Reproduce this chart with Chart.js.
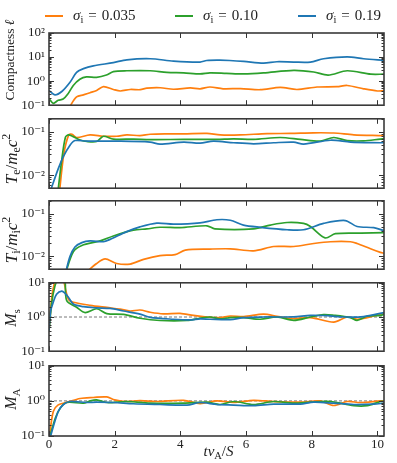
<!DOCTYPE html>
<html><head><meta charset="utf-8">
<script src="https://cdn.jsdelivr.net/npm/chart.js@4"></script>
<style>
body{margin:0;background:#fff}
#wrap{position:relative;width:397px;height:463px;overflow:hidden;background:#fff}
canvas{position:absolute;left:0}
.lg{position:absolute;top:7px;display:flex;align-items:center;font:15px 'Liberation Serif',serif;color:#222;white-space:nowrap;line-height:17px}
.ln{display:inline-block;width:18px;height:2px;margin-right:10px}
.lg sub{font-size:70%;vertical-align:-0.3em;line-height:0;font-style:normal}
.eq{margin:0 5px}
</style></head>
<body><div id="wrap">
<canvas id="c0" width="397" height="117" style="top:0px"></canvas>
<canvas id="c1" width="397" height="93" style="top:107px"></canvas>
<canvas id="c2" width="397" height="92" style="top:189px"></canvas>
<canvas id="c3" width="397" height="92" style="top:271px"></canvas>
<canvas id="c4" width="397" height="109" style="top:354px"></canvas>
<div id="legend"></div>
</div>
<script>
// ---------- data ----------
const sigmaLabels = ['0.035', '0.10', '0.19'];
const seriesColors = ['#ff7f0e', '#2ca02c', '#1f77b4'];
const xTickValues = [0, 2, 4, 6, 8, 10];
const yTickText = {'100':'10\u00B2','10':'10\u00B9','1':'10\u2070','0.1':'10\u207B\u00B9','0.01':'10\u207B\u00B2'};
const compTicks = [0.1, 1, 10, 100];
const tempTicks = [0.01, 0.1];
const machTicks = [0.1, 1, 10];

// Compactness
const compT_035 = [0.55,0.66,0.84,1.05,1.25,1.45,1.66,1.96,2.17,2.47,2.78,2.98,3.39,3.79,4.3,4.6,4.9,5.3,5.83,6.43,7.04,7.55,8.16,8.77,9.08,9.58,10.0,10.2];
const comp_035  = [0.05,0.1,0.22,0.27,0.33,0.41,0.59,0.45,0.39,0.45,0.44,0.51,0.53,0.46,0.52,0.48,0.57,0.48,0.49,0.44,0.55,0.45,0.57,0.59,0.66,0.48,0.39,0.40];
const compT_010 = [0,0.13,0.28,0.43,0.58,0.74,0.94,1.14,1.45,1.75,1.96,2.37,3.08,3.59,4.1,4.6,4.9,5.4,5.93,6.53,7.45,8.06,8.5,9.08,9.8,10.2];
const comp_010  = [0.19,0.12,0.16,0.18,0.3,0.66,1.2,1.5,1.44,1.8,2.5,2.7,2.7,2.3,2.2,2.0,2.2,2.1,2.0,2.2,2.8,2.4,1.78,2.7,1.95,1.95];
const compT_019 = [0,0.18,0.39,0.64,0.84,1.05,1.35,1.96,2.37,3.08,3.79,4.6,4.8,5.2,5.5,5.93,6.53,6.94,7.45,7.96,8.36,9.08,9.58,10.2];
const comp_019  = [0.41,0.27,0.37,0.9,2.3,3.3,4.3,5.9,7.7,8.5,6.8,6.2,7.2,7.4,7.2,6.6,5.6,6.4,6.2,6.2,8.5,10.2,8.5,7.4];

// Electron temperature
const teT_035 = [0.3,0.45,0.6,0.7,0.84,1.25,1.66,2.06,2.37,2.77,3.08,3.59,4.1,4.81,5.21,5.82,6.64,7.35,8.06,8.67,9.28,10.04,10.2];
const te_035  = [0.003,0.03,0.085,0.088,0.074,0.085,0.079,0.079,0.085,0.082,0.088,0.09,0.09,0.092,0.085,0.085,0.091,0.092,0.095,0.094,0.085,0.082,0.082];
const teT_010 = [0.25,0.38,0.5,0.6,0.95,1.15,1.45,1.66,1.96,2.57,3.08,4.1,5.11,5.62,6.23,7.04,7.65,8.26,8.67,9.08,9.58,10.09,10.2];
const te_010  = [0.003,0.02,0.075,0.085,0.065,0.06,0.06,0.079,0.068,0.068,0.066,0.067,0.067,0.069,0.067,0.074,0.067,0.061,0.074,0.063,0.062,0.068,0.069];
const teT_019 = [0.05,0.28,0.44,0.64,0.79,1.15,2.06,3.08,3.38,4.1,4.6,5.01,5.62,6.23,6.84,7.45,7.75,8.57,9.18,10.09,10.2];
const te_019  = [0.0045,0.014,0.027,0.049,0.063,0.061,0.061,0.058,0.052,0.058,0.055,0.061,0.056,0.053,0.056,0.058,0.052,0.064,0.058,0.056,0.056];

// Ion temperature
const tiT_035 = [1.1,1.45,1.71,2.06,2.47,2.88,3.38,3.84,4.15,4.9,5.52,6.23,6.84,7.45,8.06,8.57,9.18,9.38,9.79,10.09,10.2];
const ti_035  = [0.004,0.0068,0.0087,0.0068,0.0066,0.0085,0.0104,0.011,0.014,0.0148,0.015,0.0135,0.017,0.017,0.02,0.022,0.022,0.02,0.015,0.0124,0.0118];
const tiT_010 = [0.5,0.74,1.0,1.56,1.96,2.57,2.98,3.38,3.99,4.81,5.05,6.23,6.74,7.25,7.75,7.96,8.41,8.72,9.5,10.2];
const ti_010  = [0.004,0.0128,0.018,0.023,0.03,0.041,0.044,0.048,0.047,0.052,0.044,0.044,0.054,0.062,0.059,0.05,0.027,0.034,0.035,0.036];
const tiT_019 = [0.5,0.64,0.79,1.0,1.25,1.66,1.86,2.37,2.77,3.28,3.79,4.6,5.11,5.52,5.92,6.43,7.25,7.75,8.36,9.02,9.38,9.89,10.2];
const ti_019  = [0.004,0.01,0.0166,0.021,0.023,0.022,0.025,0.038,0.049,0.06,0.057,0.061,0.072,0.07,0.054,0.048,0.042,0.042,0.059,0.069,0.05,0.047,0.04];

// Sonic Mach number
const msT_035 = [0,0.08,0.15,0.25,0.35,0.45,0.52,0.6,0.74,1.25,1.76,2.16,2.47,2.77,3.08,3.48,3.99,4.4,4.81,5.2,5.52,5.93,6.53,6.94,7.35,7.96,8.67,9.08,9.38,9.69,10.2];
const ms_035  = [0.4,3.4,8.5,14,16,11,5.5,3.2,2.7,2.2,1.9,1.7,1.5,1.6,1.38,1.24,1.28,1.11,1.0,0.96,1.07,1.03,1.21,1.05,0.9,0.96,0.71,1.0,0.86,0.96,1.29];
const msT_010 = [0,0.08,0.18,0.3,0.42,0.49,0.54,0.84,1.1,1.45,1.76,2.27,2.77,3.38,4.2,4.6,4.9,5.21,5.52,5.93,6.43,6.94,7.45,7.96,8.36,8.67,9.18,9.38,9.69,10.1,10.2];
const ms_010  = [0.4,2.5,8,15,18,11,3.0,1.93,1.35,1.74,1.26,1.19,0.92,0.79,0.79,0.92,1.0,0.88,0.96,0.96,0.86,1.0,0.8,1.0,1.17,1.12,0.96,0.8,1.05,1.12,1.2];
const msT_019 = [0,0.05,0.13,0.23,0.39,0.49,0.59,0.74,1.05,1.45,1.86,2.27,2.77,3.08,3.79,4.3,4.6,4.9,5.52,5.93,6.53,7.45,7.96,8.47,8.97,9.58,10.2];
const ms_019  = [0.4,1.5,2.7,4.6,5.7,4.9,3.8,2.4,2.0,1.85,1.78,1.5,1.21,0.98,0.86,0.82,0.88,0.86,0.84,0.96,1.0,1.01,1.12,1.09,1.0,1.03,1.35];

// Alfvenic Mach number
const maT_035 = [0,0.13,0.28,0.54,0.95,1.35,1.76,2.0,2.37,2.77,3.28,4.1,4.6,5.11,5.62,6.23,6.84,7.65,8.26,8.67,9.08,9.48,10.09,10.2];
const ma_035  = [0.08,0.5,0.77,0.91,1.17,1.25,1.3,1.07,0.96,1.02,0.96,1.04,0.84,1.0,0.9,1.04,0.96,0.92,1.0,0.74,0.96,0.9,1.0,1.0];
const maT_010 = [0,0.19,0.34,0.54,1.05,1.25,1.45,1.76,2.37,3.08,4.1,4.81,5.21,5.62,6.23,6.84,7.45,7.96,8.57,9.28,9.69,10.09,10.2];
const ma_010  = [0.08,0.32,0.62,0.9,0.86,1.0,1.07,0.9,0.96,0.86,0.86,0.92,0.79,0.96,0.79,0.96,0.86,0.92,0.96,0.73,0.73,0.96,0.96];
const maT_019 = [0,0.28,0.44,0.64,1.15,1.45,1.96,2.57,3.38,4.2,4.6,5.11,5.62,6.23,6.84,7.65,8.06,8.67,9.28,9.89,10.2];
const ma_019  = [0.07,0.5,0.79,0.96,0.9,0.92,0.9,0.83,0.79,0.76,0.9,0.79,0.76,0.73,0.81,0.81,0.92,0.86,0.79,0.81,0.86];

const refLineX = [0, 10.2];
const refLineY = [1, 1];

// ---------- drawing ----------
const FAM = "'Liberation Serif', 'DejaVu Serif', serif";

function drawRich(ctx, segs, cx, cy, size, rot) {
  const parts = segs.map(([t, s]) => {
    const small = (s === 'sub' || s === 'sup');
    const sz = small ? size * 0.7 : size;
    const font = (s === 'i' ? 'italic ' : '') + sz + 'px ' + FAM;
    ctx.font = font;
    const w = ctx.measureText(t).width;
    const dy = s === 'sub' ? size * 0.22 : (s === 'sup' ? -size * 0.4 : 0);
    return {t, font, w, dy};
  });
  const total = parts.reduce((a, p) => a + p.w, 0);
  ctx.save();
  ctx.translate(cx, cy);
  if (rot) ctx.rotate(-Math.PI / 2);
  ctx.textBaseline = 'alphabetic';
  ctx.textAlign = 'left';
  ctx.fillStyle = '#222';
  let x = -total / 2;
  const base = size * 0.33;
  for (const p of parts) { ctx.font = p.font; ctx.fillText(p.t, x, base + p.dy); x += p.w; }
  ctx.restore();
}

const framePlugin = {
  id: 'frame',
  afterDatasetsDraw(chart, args, opts) {
    const {ctx, chartArea: a, scales: {x, y}} = chart;
    ctx.save();
    ctx.strokeStyle = '#333';
    ctx.lineWidth = 1;
    const seg = (x1, y1, x2, y2) => { ctx.beginPath(); ctx.moveTo(x1, y1); ctx.lineTo(x2, y2); ctx.stroke(); };
    for (const v of xTickValues) {
      const px = Math.round(x.getPixelForValue(v)) + 0.5;
      seg(px, a.bottom, px, a.bottom - 5);
      seg(px, a.top, px, a.top + 5);
    }
    const lo = Math.floor(Math.log10(y.min)), hi = Math.ceil(Math.log10(y.max));
    for (let e = lo; e <= hi; e++) {
      for (let k = 1; k <= 9; k++) {
        const v = k * Math.pow(10, e);
        if (v < y.min * 0.999 || v > y.max * 1.001) continue;
        const py = Math.round(y.getPixelForValue(v)) + 0.5;
        const len = k === 1 ? 5 : 2.5;
        seg(a.left, py, a.left + len, py);
        seg(a.right, py, a.right - len, py);
      }
    }
    ctx.lineWidth = 1.6;
    ctx.strokeStyle = '#3a3a3a';
    ctx.strokeRect(a.left, a.top, a.right - a.left, a.bottom - a.top);
    if (opts.yTitle) drawRich(ctx, opts.yTitle, opts.yTitleX, opts.yTitleY, opts.yTitleSize, true);
    if (opts.xTitle) drawRich(ctx, opts.xTitle, (a.left + a.right) / 2 + 2, opts.xTitleY, opts.xTitleSize, false);
    ctx.restore();
  }
};

function series(tArr, vArr, i) {
  return {
    label: '\u03C3\u1D62 = ' + sigmaLabels[i],
    data: tArr.map((t, k) => ({x: t, y: vArr[k]})),
    borderColor: seriesColors[i],
    backgroundColor: seriesColors[i],
    borderWidth: 1.7,
    pointRadius: 0,
    tension: 0.3,
    fill: false,
    order: 2 - i
  };
}
function refLine() {
  return {
    label: 'ref',
    data: refLineX.map((t, k) => ({x: t, y: refLineY[k]})),
    borderColor: '#555', borderWidth: 0.8, borderDash: [3, 2],
    pointRadius: 0, fill: false, order: 5
  };
}

function makePanel(id, cfg) {
  const datasets = [
    series(cfg.s[0][0], cfg.s[0][1], 0),
    series(cfg.s[1][0], cfg.s[1][1], 1),
    series(cfg.s[2][0], cfg.s[2][1], 2)
  ];
  if (cfg.ref) datasets.push(refLine());
  return new Chart(document.getElementById(id), {
    type: 'line',
    data: {datasets},
    options: {
      responsive: false, animation: false, events: [], devicePixelRatio: 1,
      layout: {padding: {left: 0, right: 13, top: cfg.padTop, bottom: cfg.padBottom}},
      plugins: {
        legend: {display: false}, tooltip: {enabled: false},
        frame: {yTitle: cfg.yTitle, yTitleX: cfg.yTitleX, yTitleY: cfg.yTitleY, yTitleSize: cfg.yTitleSize,
                xTitle: cfg.xTitle, xTitleY: cfg.xTitleY, xTitleSize: 15}
      },
      scales: {
        x: {
          type: 'linear', min: 0, max: 10.2,
          afterBuildTicks: s => { s.ticks = xTickValues.map(v => ({value: v})); },
          ticks: {display: cfg.xLabels, autoSkip: false, maxRotation: 0, padding: 1,
                  font: {family: FAM, size: 13}, color: '#222', callback: v => String(v)},
          grid: {display: false, drawTicks: false}, border: {display: false},
          afterFit: s => { s.height = cfg.xHeight; }
        },
        y: {
          type: 'logarithmic', min: cfg.min, max: cfg.max,
          afterBuildTicks: s => { s.ticks = cfg.yTicks.map(v => ({value: v})); },
          ticks: {autoSkip: false, padding: 4, font: {family: FAM, size: 13}, color: '#222',
                  callback: v => yTickText[String(v)] || ''},
          grid: {display: false, drawTicks: false}, border: {display: false},
          afterFit: s => { s.width = 49; }
        }
      }
    },
    plugins: [framePlugin]
  });
}

makePanel('c0', {s: [[compT_035, comp_035], [compT_010, comp_010], [compT_019, comp_019]],
  min: 0.1, max: 100, yTicks: compTicks, padTop: 33, padBottom: 10, xHeight: 0, xLabels: false,
  yTitle: [['Compactness ', 'r'], ['\u2113', 'i']], yTitleX: 10, yTitleY: 60, yTitleSize: 13.5});
makePanel('c1', {s: [[teT_035, te_035], [teT_010, te_010], [teT_019, te_019]],
  min: 0.005, max: 0.2, yTicks: tempTicks, padTop: 10, padBottom: 10, xHeight: 0, xLabels: false,
  yTitle: [['T', 'i'], ['e', 'sub'], ['/', 'r'], ['m', 'i'], ['e', 'sub'], ['c', 'i'], ['2', 'sup']],
  yTitleX: 11, yTitleY: 159 - 107, yTitleSize: 17});
makePanel('c2', {s: [[tiT_035, ti_035], [tiT_010, ti_010], [tiT_019, ti_019]],
  min: 0.005, max: 0.2, yTicks: tempTicks, padTop: 10, padBottom: 10, xHeight: 0, xLabels: false,
  yTitle: [['T', 'i'], ['i', 'sub'], ['/', 'r'], ['m', 'i'], ['i', 'sub'], ['c', 'i'], ['2', 'sup']],
  yTitleX: 11, yTitleY: 240 - 189, yTitleSize: 17});
makePanel('c3', {s: [[msT_035, ms_035], [msT_010, ms_010], [msT_019, ms_019]], ref: true,
  min: 0.1, max: 10, yTicks: machTicks, padTop: 10, padBottom: 10, xHeight: 0, xLabels: false,
  yTitle: [['M', 'i'], ['s', 'sub']], yTitleX: 11, yTitleY: 318 - 271, yTitleSize: 16});
makePanel('c4', {s: [[maT_035, ma_035], [maT_010, ma_010], [maT_019, ma_019]], ref: true,
  min: 0.1, max: 10, yTicks: machTicks, padTop: 10, padBottom: 0, xHeight: 27, xLabels: true,
  yTitle: [['M', 'i'], ['A', 'sub']], yTitleX: 11, yTitleY: 399 - 354, yTitleSize: 16,
  xTitle: [['t', 'i'], ['v', 'i'], ['A', 'sub'], ['/', 'r'], ['S', 'i']], xTitleY: 451 - 354});

// HTML legend built from the series labels and colours
const legendLeft = [45, 175, 298];
const lg = document.getElementById('legend');
sigmaLabels.forEach((lab, i) => {
  const d = document.createElement('div');
  d.className = 'lg';
  d.style.left = legendLeft[i] + 'px';
  d.innerHTML = '<span class="ln" style="background:' + seriesColors[i] + '"></span>' +
    '<span><i>\u03C3</i><sub>i</sub><span class="eq">=</span>' + lab + '</span>';
  lg.appendChild(d);
});
</script>
</body></html>
